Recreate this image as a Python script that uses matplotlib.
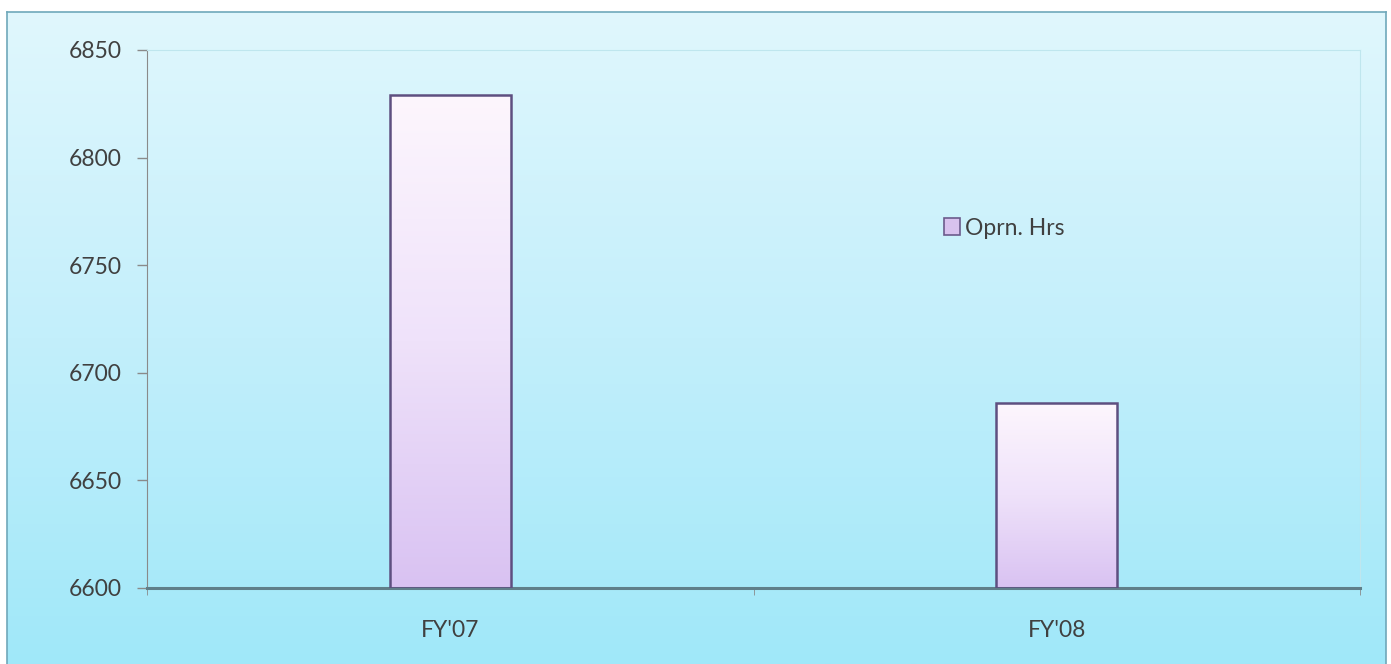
import numpy as np
import matplotlib
matplotlib.use("Agg")
import matplotlib.pyplot as plt
from matplotlib.colors import LinearSegmentedColormap
from matplotlib.patches import Rectangle

categories = ["FY'07", "FY'08"]
oprn_hrs = [6829, 6686]
y_ticks = [6600, 6650, 6700, 6750, 6800, 6850]
series_name = "Oprn. Hrs"

plt.rcParams['font.family'] = ['Lato', 'DejaVu Sans']

W, H = 1391, 664
fig = plt.figure(figsize=(W / 100, H / 100), dpi=100)
fig.patch.set_facecolor('white')

# background panel with vertical gradient
bg = fig.add_axes([7 / W, 0, (1386 - 7) / W, (664 - 12) / H])
bg_cmap = LinearSegmentedColormap.from_list('bg', ['#a0e8f9', '#c3effb', '#e0f7fd'])
bg.imshow(np.linspace(0, 1, 256).reshape(-1, 1), aspect='auto', cmap=bg_cmap,
          origin='lower', extent=[0, 1, 0, 1])
bg.set_xlim(0, 1)
bg.set_ylim(0, 1)
bg.set_xticks([])
bg.set_yticks([])
for s in bg.spines.values():
    s.set_color('#6fa8ba')
    s.set_linewidth(1.2)
bg.spines['bottom'].set_visible(False)

# plot area
left, right, top, bottom = 147, 1360, 50, 588
ax = fig.add_axes([left / W, 1 - bottom / H, (right - left) / W, (bottom - top) / H])
ax.patch.set_alpha(0)
ax.set_ylim(6600, 6850)
ax.set_xlim(-0.5, len(categories) - 0.5)
ax.set_yticks(y_ticks)
ax.set_yticklabels([str(t) for t in y_ticks], fontsize=16.5, color='#404040')
ax.tick_params(axis='y', length=7, width=1, color='#8a8a8a', pad=11)

ax.set_xticks(range(len(categories)))
ax.set_xticklabels(categories, fontsize=16.5, color='#404040')
ax.tick_params(axis='x', length=0, pad=23)
ax.set_xticks([-0.5, 0.5, 1.5], minor=True)
ax.tick_params(axis='x', which='minor', length=5, color='#8a8a8a')

ax.spines['left'].set_color('#8a8a8a')
ax.spines['bottom'].set_color('#5f7f8a')
ax.spines['bottom'].set_linewidth(2.2)
ax.spines['top'].set_color('#bfe6ee')
ax.spines['right'].set_color('#bfe6ee')

bar_cmap = LinearSegmentedColormap.from_list('bar', ['#d9c2f2', '#efe2fa', '#fdf6fd'])
bar_w = 0.2
grad = np.linspace(0, 1, 256).reshape(-1, 1)
for i, v in enumerate(oprn_hrs):
    x0 = i - bar_w / 2
    im = ax.imshow(grad, aspect='auto', cmap=bar_cmap, origin='lower',
                   extent=[x0, x0 + bar_w, 6600, v], zorder=2)
    rect = Rectangle((x0, 6600), bar_w, v - 6600, facecolor='none',
                     edgecolor='#5e4f80', linewidth=1.8, zorder=3)
    ax.add_patch(rect)
    im.set_clip_path(rect)
ax.set_xlim(-0.5, len(categories) - 0.5)
ax.set_ylim(6600, 6850)

# legend
handle = Rectangle((0, 0), 1, 1, facecolor='#d8c2ee', edgecolor='#6b5b8c', linewidth=1.2)
leg = ax.legend([handle], [series_name], loc='center left',
                bbox_to_anchor=((944 - left) / (right - left), 1 - (228 - top) / (bottom - top)),
                frameon=False, fontsize=16.5, handlelength=0.7, handleheight=0.7,
                handletextpad=0.2, borderaxespad=0, borderpad=0)
for t in leg.get_texts():
    t.set_color('#404040')

fig.savefig('out.png', dpi=100)
